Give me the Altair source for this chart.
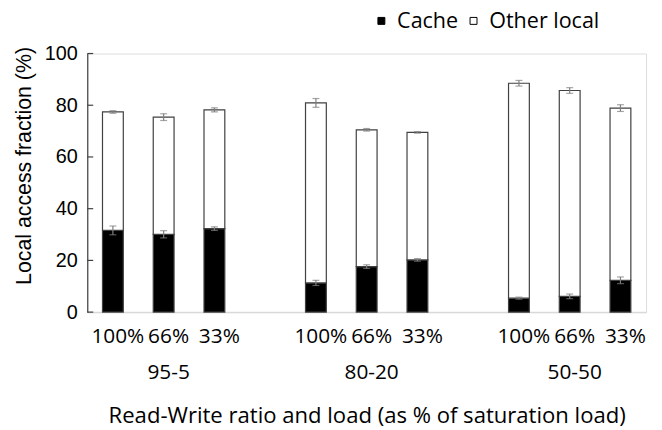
import altair as alt
import pandas as pd

# ---- data ----
groups = ["95-5", "80-20", "50-50"]
loads = ["100%", "66%", "33%"]
cache = [31.6, 30.1, 32.3, 11.3, 17.6, 20.2, 5.4, 6.1, 12.3]
total = [77.4, 75.4, 78.2, 80.9, 70.5, 69.5, 88.5, 85.7, 78.9]
cache_err = [1.7, 1.4, 0.7, 1.0, 0.7, 0.5, 0.4, 0.9, 1.3]
total_err = [0.5, 1.3, 0.8, 1.7, 0.5, 0.3, 1.1, 1.1, 1.3]
y_ticks = [0, 20, 40, 60, 80, 100]
series = ["Cache", "Other local"]

# category slots (with empty gap slots between groups)
slots = []
keys = []
for gi, g in enumerate(groups):
    for l in loads:
        k = g + "|" + l
        slots.append(k)
        keys.append(k)
    if gi < len(groups) - 1:
        slots.append("gap" + str(gi + 1))

rows = []
err_rows = []
for i, k in enumerate(keys):
    rows.append({"slot": k, "series": "Cache", "lo": 0.0, "hi": cache[i]})
    rows.append({"slot": k, "series": "Other local", "lo": cache[i], "hi": total[i]})
    err_rows.append({"slot": k, "lo": cache[i] - cache_err[i], "hi": cache[i] + cache_err[i]})
    err_rows.append({"slot": k, "lo": total[i] - total_err[i], "hi": total[i] + total_err[i]})

bars_df = pd.DataFrame(rows)
err_df = pd.DataFrame(err_rows)
ticks_df = pd.DataFrame({"v": y_ticks})

label_expr = (
    "indexof(datum.value, '|') < 0 ? '' : "
    "(split(datum.value, '|')[1] == '66%' ? [split(datum.value, '|')[1], split(datum.value, '|')[0]] "
    ": split(datum.value, '|')[1])"
)

xscale = alt.Scale(domain=slots, paddingInner=0.59, paddingOuter=0.3)
yscale = alt.Scale(domain=[0, 100])

x_enc = alt.X(
    "slot:N",
    scale=xscale,
    sort=slots,
    axis=alt.Axis(
        title="Read-Write ratio and load (as % of saturation load)",
        labelExpr=label_expr,
        labelAngle=0,
        ticks=False,
        domainColor="#d9d9d9",
        domainWidth=1.5,
        labelFont="Open Sans",
        labelFontSize=21,
        labelColor="#000000",
        labelPadding=14,
        labelLineHeight=36,
        labelBaseline="top",
        labelOverlap=False,
        labelOffset=5,
        titleFont="Open Sans",
        titleFontSize=22.3,
        titleFontWeight="normal",
        titleColor="#000000",
        titlePadding=22,
    ),
)

bars = alt.Chart(bars_df).mark_bar(stroke="#404040", strokeWidth=1.2).encode(
    x=x_enc,
    y=alt.Y(
        "lo:Q",
        scale=yscale,
        axis=alt.Axis(
            title="Local access fraction (%)",
            values=y_ticks,
            ticks=False,
            grid=False,
            domainColor="#404040",
            domainWidth=1.2,
            labelFont="Liberation Sans",
            labelFontSize=20,
            labelColor="#000000",
            labelPadding=10,
            titleFont="Liberation Sans",
            titleFontSize=21.5,
            titleFontWeight="normal",
            titleColor="#000000",
            titlePadding=9,
            titleY=113,
        ),
    ),
    y2="hi:Q",
    fill=alt.Fill(
        "series:N",
        scale=alt.Scale(domain=series, range=["#000000", "#ffffff"]),
        legend=alt.Legend(
            title=None,
            orient="none",
            direction="horizontal",
            legendX=286,
            legendY=-44,
            symbolType="square",
            symbolSize=49,
            symbolStrokeColor="#000000",
            symbolStrokeWidth=1,
            labelFont="Open Sans",
            labelFontSize=21.7,
            labelColor="#000000",
            labelOffset=5,
            columnPadding=4,
            padding=0,
        ),
    ),
)

err_rule = alt.Chart(err_df).mark_rule(color="#7f7f7f", strokeWidth=1.2).encode(
    x=alt.X("slot:N", scale=xscale, sort=slots),
    y=alt.Y("lo:Q", scale=yscale),
    y2="hi:Q",
)
err_lo = alt.Chart(err_df).mark_tick(color="#7f7f7f", thickness=1.2, size=7).encode(
    x=alt.X("slot:N", scale=xscale, sort=slots),
    y=alt.Y("lo:Q", scale=yscale),
)
err_hi = alt.Chart(err_df).mark_tick(color="#7f7f7f", thickness=1.2, size=7).encode(
    x=alt.X("slot:N", scale=xscale, sort=slots),
    y=alt.Y("hi:Q", scale=yscale),
)

inner_ticks = alt.Chart(ticks_df).mark_rule(color="#404040", strokeWidth=1.2).encode(
    y=alt.Y("v:Q", scale=yscale),
    x=alt.value(0),
    x2=alt.value(6),
)

chart = (
    alt.layer(bars, err_rule, err_lo, err_hi, inner_ticks)
    .properties(
        width=564,
        height=261,
        autosize=alt.AutoSizeParams(type="none"),
        padding={"left": 80, "top": 44, "right": 8, "bottom": 114},
    )
    .configure_view(stroke=None)
    .configure(background="#ffffff")
)

chart.save("out.html", embed_options={"renderer": "svg", "actions": False})
